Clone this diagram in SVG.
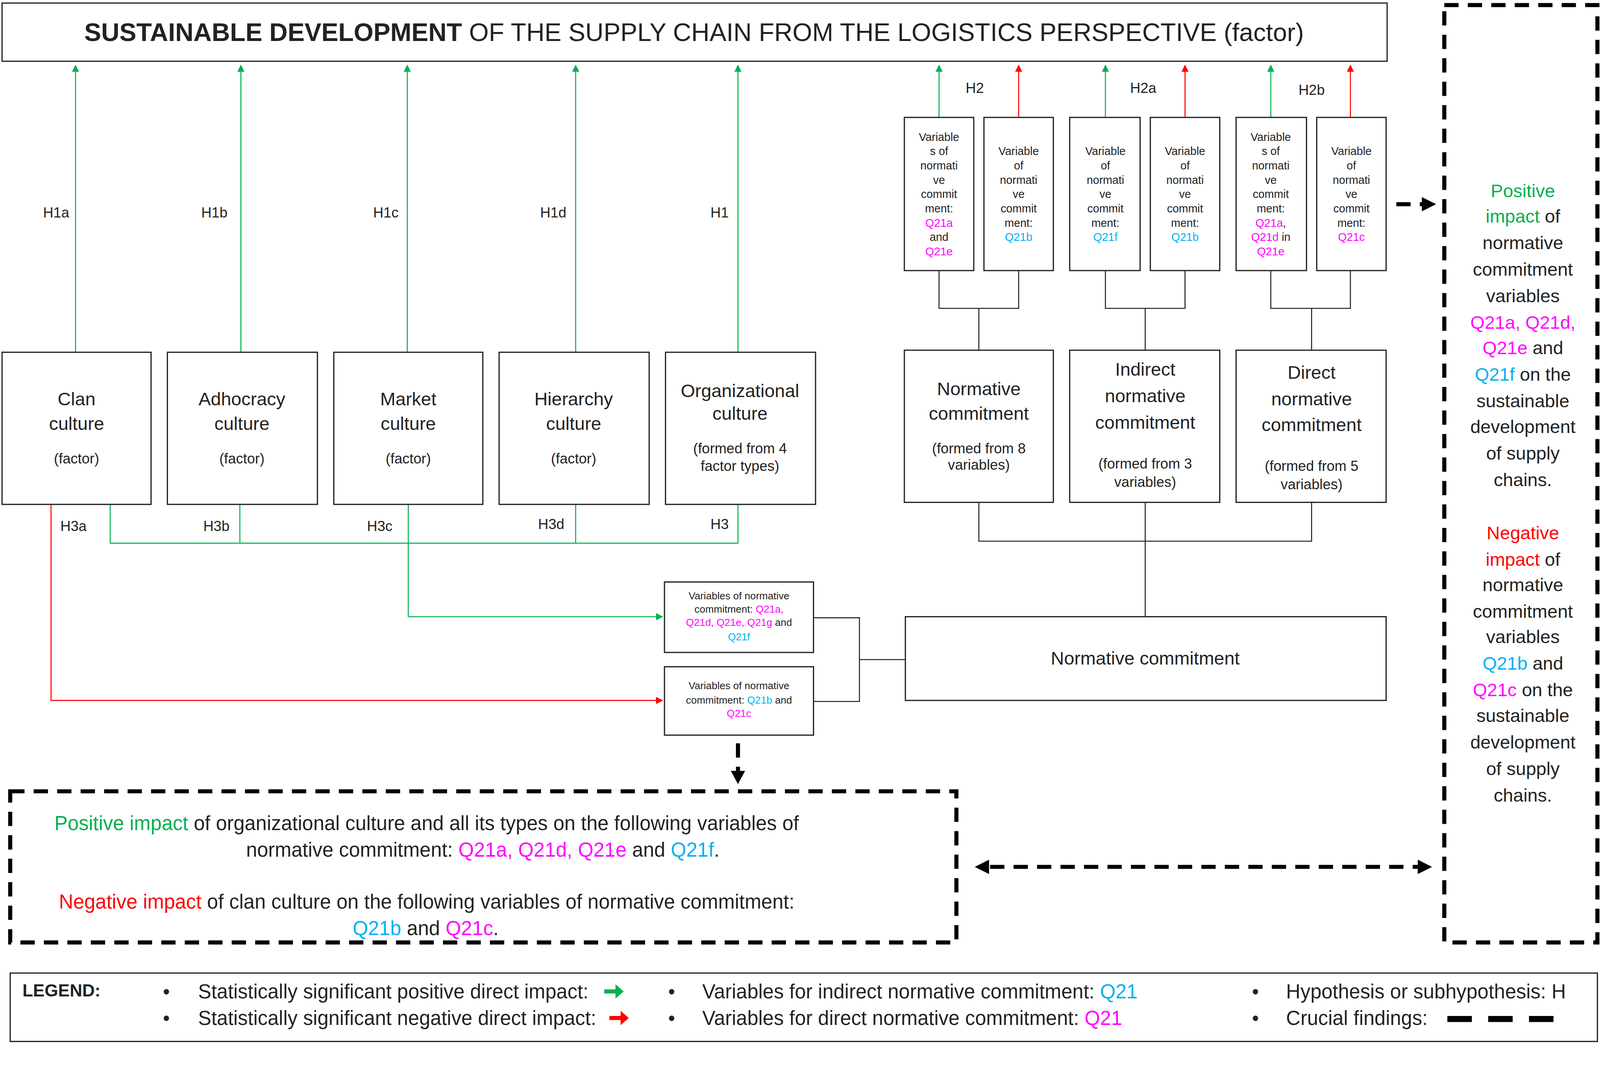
<svg xmlns="http://www.w3.org/2000/svg" width="4241" height="2766" viewBox="0 0 4241 2766">
<defs>
<style>
text{font-family:"Liberation Sans",Arial,sans-serif;fill:#222;text-anchor:middle}
.box{fill:#fff;stroke:#222;stroke-width:1.2}
.ln{fill:none;stroke:#222;stroke-width:1}
.g{fill:none;stroke:#00b050;stroke-width:1}
.r{fill:none;stroke:#ff0000;stroke-width:1}
.dash{fill:none;stroke:#000;stroke-width:4;stroke-dasharray:14,9}
.gt{fill:#00b050}.rt{fill:#ff0000}.mt{fill:#ff00ff}.ct{fill:#00b0f0}
.f13{font-size:14px}.f18{font-size:18px}.f19{font-size:19.5px}.f11{font-size:11px}.f10{font-size:10px}.f17{font-size:19.5px}
</style>
<marker id="ag" viewBox="0 0 10 10" refX="9" refY="5" markerWidth="7" markerHeight="7" orient="auto"><path d="M0,0L10,5L0,10z" fill="#00b050"/></marker>
<marker id="ar" viewBox="0 0 10 10" refX="9" refY="5" markerWidth="7" markerHeight="7" orient="auto"><path d="M0,0L10,5L0,10z" fill="#ff0000"/></marker>
</defs>
<rect width="4241" height="2766" fill="#fff"/>
<g transform="scale(2.613,2.615)">
<g id="title"><rect class="box" x="2" y="3" width="1357" height="57"/>
<text x="680" y="40" style="font-size:24.8px"><tspan font-weight="bold">SUSTAINABLE DEVELOPMENT</tspan> OF THE SUPPLY CHAIN FROM THE LOGISTICS PERSPECTIVE (factor)</text></g>

<g id="connectors">
<path class="g" d="M74,345V64" marker-end="url(#ag)"/>
<path class="g" d="M236,345V64" marker-end="url(#ag)"/>
<path class="g" d="M399,345V64" marker-end="url(#ag)"/>
<path class="g" d="M564,345V64" marker-end="url(#ag)"/>
<path class="g" d="M723,345V64" marker-end="url(#ag)"/>
<path class="g" d="M920,115V64" marker-end="url(#ag)"/>
<path class="r" d="M998,115V64" marker-end="url(#ar)"/>
<path class="g" d="M1083,115V64" marker-end="url(#ag)"/>
<path class="r" d="M1161,115V64" marker-end="url(#ar)"/>
<path class="g" d="M1245,115V64" marker-end="url(#ag)"/>
<path class="r" d="M1323,115V64" marker-end="url(#ar)"/>
<path class="ln" d="M920,265V302H998V265M959,302V343"/>
<path class="ln" d="M1083,265V302H1161V265M1122,302V343"/>
<path class="ln" d="M1245,265V302H1323V265M1285,302V343"/>
<path class="ln" d="M959,492V530H1285V492M1122,492V604"/>
<path class="ln" d="M797,605H842V687H797M842,646H887"/>
<path class="g" d="M108,494V532H723V494M235,494V532M564,494V532"/>
<path class="g" d="M400,494V604H649" marker-end="url(#ag)"/>
<path class="r" d="M50,494V686H649" marker-end="url(#ar)"/>
<path class="dash" d="M723,728V758"/>
<path d="M716,755L730,755L723,768z" fill="#000"/>
<path class="dash" d="M1368,200H1393"/>
<path d="M1393,193L1407,200L1393,207z" fill="#000"/>
<path class="dash" d="M970,849H1390"/>
<path d="M969,842L955,849L969,856z" fill="#000"/>
<path d="M1389,842L1403,849L1389,856z" fill="#000"/>
</g>

<g id="hlabels" class="f13">
<text x="55" y="213">H1a</text><text x="210" y="213">H1b</text><text x="378" y="213">H1c</text><text x="542" y="213">H1d</text><text x="705" y="213">H1</text>
<text x="955" y="91">H2</text><text x="1120" y="91">H2a</text><text x="1285" y="93">H2b</text>
<text x="72" y="520">H3a</text><text x="212" y="520">H3b</text><text x="372" y="520">H3c</text><text x="540" y="518">H3d</text><text x="705" y="518">H3</text>
</g>

<g id="clan"><rect class="box" x="2" y="345" width="146" height="149"/><text class="f18" x="75" y="397">Clan</text><text class="f18" x="75" y="421">culture</text><text class="f13" x="75" y="454">(factor)</text></g>
<g id="adhocracy"><rect class="box" x="164" y="345" width="147" height="149"/><text class="f18" x="237" y="397">Adhocracy</text><text class="f18" x="237" y="421">culture</text><text class="f13" x="237" y="454">(factor)</text></g>
<g id="market"><rect class="box" x="327" y="345" width="146" height="149"/><text class="f18" x="400" y="397">Market</text><text class="f18" x="400" y="421">culture</text><text class="f13" x="400" y="454">(factor)</text></g>
<g id="hierarchy"><rect class="box" x="489" y="345" width="147" height="149"/><text class="f18" x="562" y="397">Hierarchy</text><text class="f18" x="562" y="421">culture</text><text class="f13" x="562" y="454">(factor)</text></g>
<g id="org"><rect class="box" x="652" y="345" width="147" height="149"/><text class="f18" x="725" y="389">Organizational</text><text class="f18" x="725" y="411">culture</text><text class="f13" x="725" y="444">(formed from 4</text><text class="f13" x="725" y="461">factor types)</text></g>

<g id="v1" class="f11"><rect class="box" x="886" y="115" width="68" height="150"/>
<text x="920" y="138">Variable</text><text x="920" y="152">s of</text><text x="920" y="166">normati</text><text x="920" y="180">ve</text><text x="920" y="194">commit</text><text x="920" y="208">ment:</text><text x="920" y="222" class="mt">Q21a</text><text x="920" y="236">and</text><text x="920" y="250" class="mt">Q21e</text></g>
<g id="v2" class="f11"><rect class="box" x="964" y="115" width="68" height="150"/>
<text x="998" y="152">Variable</text><text x="998" y="166">of</text><text x="998" y="180">normati</text><text x="998" y="194">ve</text><text x="998" y="208">commit</text><text x="998" y="222">ment:</text><text x="998" y="236" class="ct">Q21b</text></g>
<g id="v3" class="f11"><rect class="box" x="1048" y="115" width="69" height="150"/>
<text x="1083" y="152">Variable</text><text x="1083" y="166">of</text><text x="1083" y="180">normati</text><text x="1083" y="194">ve</text><text x="1083" y="208">commit</text><text x="1083" y="222">ment:</text><text x="1083" y="236" class="ct">Q21f</text></g>
<g id="v4" class="f11"><rect class="box" x="1127" y="115" width="68" height="150"/>
<text x="1161" y="152">Variable</text><text x="1161" y="166">of</text><text x="1161" y="180">normati</text><text x="1161" y="194">ve</text><text x="1161" y="208">commit</text><text x="1161" y="222">ment:</text><text x="1161" y="236" class="ct">Q21b</text></g>
<g id="v5" class="f11"><rect class="box" x="1211" y="115" width="69" height="150"/>
<text x="1245" y="138">Variable</text><text x="1245" y="152">s of</text><text x="1245" y="166">normati</text><text x="1245" y="180">ve</text><text x="1245" y="194">commit</text><text x="1245" y="208">ment:</text><text x="1245" y="222"><tspan class="mt">Q21a</tspan>,</text><text x="1245" y="236"><tspan class="mt">Q21d</tspan> in</text><text x="1245" y="250" class="mt">Q21e</text></g>
<g id="v6" class="f11"><rect class="box" x="1290" y="115" width="68" height="150"/>
<text x="1324" y="152">Variable</text><text x="1324" y="166">of</text><text x="1324" y="180">normati</text><text x="1324" y="194">ve</text><text x="1324" y="208">commit</text><text x="1324" y="222">ment:</text><text x="1324" y="236" class="mt">Q21c</text></g>

<g id="nc1"><rect class="box" x="886" y="343" width="146" height="149"/><text class="f18" x="959" y="387">Normative</text><text class="f18" x="959" y="411">commitment</text><text class="f13" x="959" y="444">(formed from 8</text><text class="f13" x="959" y="460">variables)</text></g>
<g id="nc2"><rect class="box" x="1048" y="343" width="147" height="149"/><text class="f18" x="1122" y="368">Indirect</text><text class="f18" x="1122" y="394">normative</text><text class="f18" x="1122" y="420">commitment</text><text class="f13" x="1122" y="459">(formed from 3</text><text class="f13" x="1122" y="477">variables)</text></g>
<g id="nc3"><rect class="box" x="1211" y="343" width="147" height="149"/><text class="f18" x="1285" y="371">Direct</text><text class="f18" x="1285" y="397">normative</text><text class="f18" x="1285" y="422">commitment</text><text class="f13" x="1285" y="461">(formed from 5</text><text class="f13" x="1285" y="479">variables)</text></g>
<g id="ncmain"><rect class="box" x="887" y="604" width="471" height="82"/><text class="f18" x="1122" y="651">Normative commitment</text></g>

<g id="sv1" class="f10"><rect class="box" x="651" y="570" width="146" height="69"/>
<text x="724" y="587">Variables of normative</text><text x="724" y="600">commitment: <tspan class="mt">Q21a,</tspan></text><text x="724" y="613"><tspan class="mt">Q21d, Q21e, Q21g</tspan> and</text><text x="724" y="627" class="ct">Q21f</text></g>
<g id="sv2" class="f10"><rect class="box" x="651" y="653" width="146" height="67"/>
<text x="724" y="675">Variables of normative</text><text x="724" y="689">commitment: <tspan class="ct">Q21b</tspan> and</text><text x="724" y="702" class="mt">Q21c</text></g>

<g id="findings-left"><rect class="dash" x="10" y="775" width="927" height="148"/>
<text class="f19" x="418" y="813"><tspan class="gt">Positive impact</tspan> of organizational culture and all its types on the following variables of</text>
<text class="f19" x="473" y="839">normative commitment: <tspan class="mt">Q21a, Q21d, Q21e</tspan> and <tspan class="ct">Q21f</tspan>.</text>
<text class="f19" x="418" y="890"><tspan class="rt">Negative impact</tspan> of clan culture on the following variables of normative commitment:</text>
<text class="f19" x="417" y="916"><tspan class="ct">Q21b</tspan> and <tspan class="mt">Q21c</tspan>.</text></g>

<g id="findings-right" class="f18"><rect class="dash" x="1415" y="5" width="150" height="918"/>
<text x="1492" y="193" class="gt">Positive</text><text x="1492" y="218"><tspan class="gt">impact</tspan> of</text><text x="1492" y="244">normative</text><text x="1492" y="270">commitment</text><text x="1492" y="296">variables</text><text x="1492" y="322" class="mt">Q21a, Q21d,</text><text x="1492" y="347"><tspan class="mt">Q21e</tspan> and</text><text x="1492" y="373"><tspan class="ct">Q21f</tspan> on the</text><text x="1492" y="399">sustainable</text><text x="1492" y="424">development</text><text x="1492" y="450">of supply</text><text x="1492" y="476">chains.</text>
<text x="1492" y="528" class="rt">Negative</text><text x="1492" y="554"><tspan class="rt">impact</tspan> of</text><text x="1492" y="579">normative</text><text x="1492" y="605">commitment</text><text x="1492" y="630">variables</text><text x="1492" y="656"><tspan class="ct">Q21b</tspan> and</text><text x="1492" y="682"><tspan class="mt">Q21c</tspan> on the</text><text x="1492" y="707">sustainable</text><text x="1492" y="733">development</text><text x="1492" y="759">of supply</text><text x="1492" y="785">chains.</text></g>

<g id="legend" class="f17"><rect class="box" x="10" y="953" width="1555" height="67"/>
<text x="22" y="976" style="text-anchor:start;font-weight:bold;font-size:17px">LEGEND:</text>
<text x="163" y="978">•</text><text x="163" y="1004">•</text><text x="658" y="978">•</text><text x="658" y="1004">•</text><text x="1230" y="978">•</text><text x="1230" y="1004">•</text>
<text x="194" y="978" style="text-anchor:start">Statistically significant positive direct impact:</text>
<text x="194" y="1004" style="text-anchor:start">Statistically significant negative direct impact:</text>
<text x="688" y="978" style="text-anchor:start">Variables for indirect normative commitment: <tspan class="ct">Q21</tspan></text>
<text x="688" y="1004" style="text-anchor:start">Variables for direct normative commitment: <tspan class="mt">Q21</tspan></text>
<text x="1260" y="978" style="text-anchor:start">Hypothesis or subhypothesis: H</text>
<text x="1260" y="1004" style="text-anchor:start">Crucial findings:</text>
<path d="M592,969H603V964L611,971L603,978V973H592z" fill="#00b050"/>
<path d="M597,995H608V990L616,997L608,1004V999H597z" fill="#ff0000"/>
<path d="M1418,998H1522" stroke="#000" stroke-width="6" stroke-dasharray="24,16" fill="none"/>
</g>
</g>
</svg>
